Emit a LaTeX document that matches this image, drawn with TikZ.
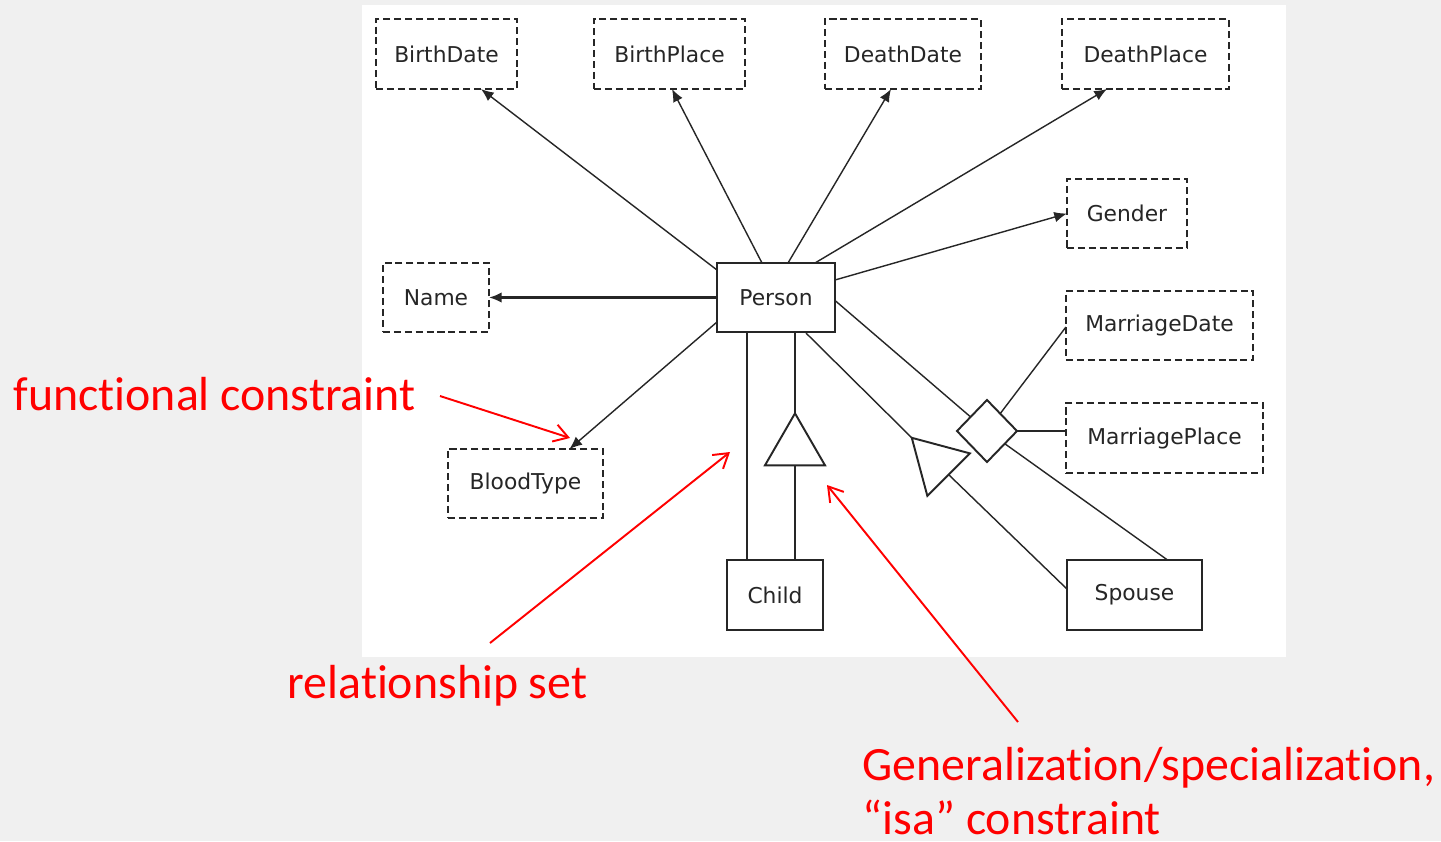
\documentclass[tikz,border=0pt]{standalone}
\usepackage{fontspec}
\setmainfont{Carlito}[Ligatures=NoCommon]
\newfontfamily\erfont{DejaVu Sans}
\usetikzlibrary{arrows.meta,shapes.geometric,calc}
\definecolor{bgray}{HTML}{F0F0F0}
\definecolor{ink}{HTML}{262626}
\definecolor{notered}{HTML}{FF0000}

\begin{document}
\begin{tikzpicture}[x=0.01cm,y=-0.01cm,
  erlabel/.style={font=\erfont\fontsize{6.2}{7}\selectfont, text=ink, inner sep=0pt, outer sep=0pt},
  attr/.style={erlabel, draw=ink, line width=0.6pt, dash pattern=on 2pt off 1.1pt},
  ent/.style={erlabel, draw=ink, line width=0.65pt},
  link/.style={draw=ink, line width=0.4pt},
  fn/.style={link, -{Latex[length=3.6pt,width=3pt]}},
  isa/.style={draw=ink, line width=0.55pt, regular polygon, regular polygon sides=3,
              minimum size=0.693cm, inner sep=0pt, outer sep=0pt},
  rel/.style={draw=ink, line width=0.55pt, diamond, minimum width=0.60cm,
              minimum height=0.62cm, inner sep=0pt, outer sep=0pt},
  remark/.style={text=notered, font=\fontsize{13.6}{17}\selectfont, anchor=base west, inner sep=0pt},
  pointer/.style={draw=notered, line width=0.55pt, -{Straight Barb[length=4pt,width=5pt]}}
]
\useasboundingbox (0,0) rectangle (1441,841);
% slide background and diagram panel
\fill[bgray] (0,0) rectangle (1441,841);
\fill[white] (362,5) rectangle (1286,657);

% attributes
\node[attr, minimum width=1.41cm, minimum height=0.70cm] (bdate)  at (446.5,54)   {BirthDate};
\node[attr, minimum width=1.51cm, minimum height=0.70cm] (bplace) at (669.5,54)   {BirthPlace};
\node[attr, minimum width=1.56cm, minimum height=0.70cm] (ddate)  at (903,54)     {DeathDate};
\node[attr, minimum width=1.67cm, minimum height=0.70cm] (dplace) at (1145.5,54)  {DeathPlace};
\node[attr, minimum width=1.20cm, minimum height=0.69cm] (gender) at (1127,213.5) {Gender};
\node[attr, minimum width=1.06cm, minimum height=0.69cm] (name)   at (436,297.5)  {Name};
\node[attr, minimum width=1.87cm, minimum height=0.69cm] (mdate)  at (1159.5,325.5) {MarriageDate};
\node[attr, minimum width=1.97cm, minimum height=0.70cm] (mplace) at (1164.5,438) {MarriagePlace};
\node[attr, minimum width=1.55cm, minimum height=0.69cm] (blood)  at (525.5,483.5) {BloodType};

% entities
\node[ent, minimum width=1.18cm, minimum height=0.69cm] (person) at (776,297.5) {Person};
\node[ent, minimum width=0.96cm, minimum height=0.70cm] (child)  at (775,595)   {Child};
\node[ent, minimum width=1.35cm, minimum height=0.70cm] (spouse) at (1134.5,595) {Spouse};

% isa triangles and the marriage relationship
\node[isa] (isa1) at (795,448) {};
\node[isa, rotate=45] (isa2) at (936.3,462.3) {};
\node[rel] (marr) at (987,431) {};

% functional attributes
\draw[fn] ($(person.north west)+(0,7)$) -- ($(bdate.south)+(34.5,0)$);
\draw[fn] ($(person.north)+(-14,0)$) -- ($(bplace.south)+(2.5,0)$);
\draw[fn] ($(person.north)+(12,0)$) -- ($(ddate.south)+(-12,0)$);
\draw[fn] ($(person.north)+(39,0)$) -- ($(dplace.south)+(-38.5,0)$);
\draw[fn] ($(person.north east)+(0,17)$) -- (gender.west);
\draw[fn, line width=0.6pt] (person.west) -- (name.east);
\draw[fn] ($(person.south west)+(0,-10)$) -- ($(blood.north)+(44,0)$);

% child: relationship line and isa
\coordinate (c1) at ($(person.south)+(-29,0)$);
\draw[link, line width=0.55pt] (c1) -- (c1 |- child.north);
\coordinate (c2) at ($(person.south)+(19,0)$);
\draw[link, line width=0.55pt] (c2) -- (isa1.corner 1);
\draw[link, line width=0.55pt] (isa1.side 2) -- (isa1.side 2 |- child.north);

% spouse: isa and marriage
\draw[link] ($(person.south)+(30,1)$) -- (isa2.corner 1);
\draw[link] (isa2.side 2) -- ($(spouse.north west)+(0,29)$);
\draw[link] ($(person.east)+(0,3)$) -- (marr);
\draw[link] (marr) -- ($(mdate.west)+(0,1.5)$);
\draw[link] (marr.east) -- (marr.east -| mplace.west);
\draw[link] (marr) -- ($(spouse.north)+(33,0)$);

% annotations
\node[remark] (fc)  at (13,410)  {functional constraint};
\node[remark] (rs)  at (287,698) {relationship set};
\node[remark] (gs1) at (862,780) {Generalization/specialization,};
\node[remark] (gs2) at (862,834) {“isa” constraint};

\coordinate (fcTail) at (440,396);
\coordinate (fcHead) at ($(blood.north)+(44.5,-11)$);
\draw[pointer] (fcTail) -- (fcHead);
\coordinate (rsTail) at (490,643);
\coordinate (rsHead) at (730,452);
\draw[pointer] (rsTail) -- (rsHead);
\coordinate (gsTail) at (1018,722);
\coordinate (gsHead) at (827,485);
\draw[pointer] (gsTail) -- (gsHead);
\end{tikzpicture}
\end{document}
